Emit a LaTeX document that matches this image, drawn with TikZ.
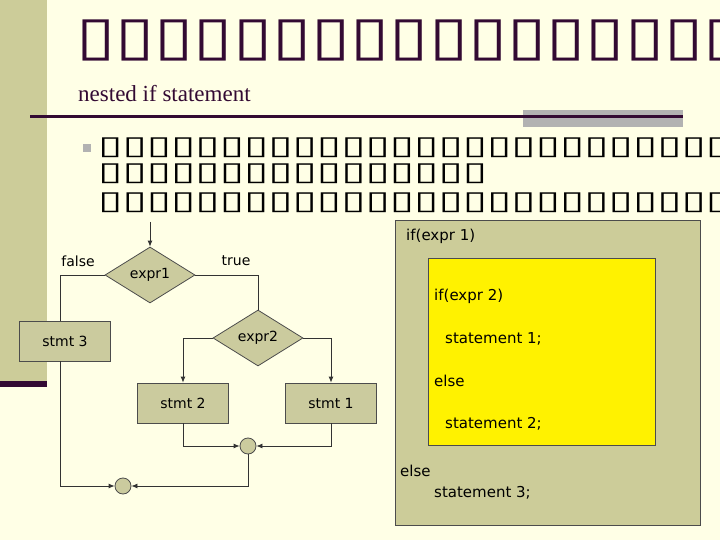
\documentclass[tikz,border=0pt]{standalone}
\usepackage{fontspec}
\setmainfont{Liberation Serif}
\newfontfamily\dv{DejaVu Sans}
\newfontfamily\tah{DejaVu Sans}
\usetikzlibrary{shapes.geometric,arrows.meta}
\definecolor{bg}{HTML}{FFFFE6}
\definecolor{olive}{HTML}{CCCC99}
\definecolor{dpurp}{HTML}{330A33}
\definecolor{gbar}{HTML}{B2B2B2}
\definecolor{fill2}{HTML}{CBCB9E}
\tikzset{
 fc/.style={font=\tah\fontsize{14}{16}\selectfont},
 dia/.style={diamond,aspect=1.6,fill=fill2,draw=black!70,line width=0.8pt,minimum width=90,minimum height=56,inner sep=0pt,fc},
 stmtbox/.style={rectangle,fill=fill2,draw=black!70,line width=0.8pt,minimum width=91,minimum height=40,fc},
 jn/.style={circle,fill=fill2,draw=black!70,line width=0.8pt,minimum size=16,inner sep=0pt},
 ln/.style={line width=0.8pt,black!80},
 ar/.style={ln,-{Latex[length=6pt,width=5pt]}},
 pt/.style={font=\tah\fontsize{15}{17}\selectfont,anchor=west,inner sep=0pt},
 tofu/.style={anchor=west,inner sep=0pt,text=dpurp},
}
\begin{document}
\begin{tikzpicture}[x=1pt,y=-1pt]
\useasboundingbox (0,0) rectangle (720,540);
\fill[bg] (0,0) rectangle (720,540);
\fill[olive] (0,0) rectangle (47,384);
\fill[dpurp] (0,381) rectangle (47,387);
% title
\node[tofu,font=\dv\fontsize{54}{56}\selectfont] (title) at (76,40) {\scalebox{1.32}[1]{▯▯▯▯▯▯▯▯▯▯▯▯▯▯▯▯▯▯}};
\node[anchor=west,inner sep=0pt,font=\fontsize{23}{26}\selectfont,text=dpurp] (sub) at (78,94) {nested if statement};
\fill[gbar] (523,110) rectangle (683,127);
\draw[dpurp,line width=3pt] (30,117) -- (683,117);
\fill[gbar] (83,144) rectangle (91,152);
\node[tofu,text=black,font=\dv\fontsize{26}{30}\selectfont] (l1) at (98,148) {\scalebox{1.7}[1]{▯▯▯▯▯▯▯▯▯▯▯▯▯▯▯▯▯▯▯▯▯▯▯▯▯▯▯▯}};
\node[tofu,text=black,font=\dv\fontsize{26}{30}\selectfont] (l2) at (98,174) {\scalebox{1.7}[1]{▯▯▯▯▯▯▯▯▯▯▯▯▯▯▯▯}};
\node[tofu,text=black,font=\dv\fontsize{26}{30}\selectfont] (l3) at (98,203) {\scalebox{1.7}[1]{▯▯▯▯▯▯▯▯▯▯▯▯▯▯▯▯▯▯▯▯▯▯▯▯▯▯▯▯}};
% right panel
\node[draw=black!70,line width=0.8pt,fill=olive,minimum width=305,minimum height=305,inner sep=0pt] (outer) at (547.5,372.5) {};
\node[draw=black!70,line width=0.6pt,fill=yellow,minimum width=227,minimum height=187,inner sep=0pt] (inner) at (541.5,351.5) {};
\node[pt] (t1) at (406,236) {if(expr 1)};
\node[pt] (t2) at (434,296) {if(expr 2)};
\node[pt] (t3) at (445,339) {statement 1;};
\node[pt] (t4) at (434,381) {else};
\node[pt] (t5) at (445,424) {statement 2;};
\node[pt] (t6) at (400,471) {else};
\node[pt] (t7) at (434,493) {statement 3;};
% flowchart
\coordinate (start) at (150,222);
\node[dia] (e1) at (150,275) {expr1};
\node[dia] (e2) at (258,338) {expr2};
\node[stmtbox] (s3) at (65,341) {stmt 3};
\node[stmtbox] (s2) at (183,403) {stmt 2};
\node[stmtbox] (s1) at (331,403) {stmt 1};
\node[jn] (j2) at (248,446) {};
\node[jn] (j1) at (123,486) {};
\node[fc,inner sep=0pt] (lf) at (78,261) {false};
\node[fc,inner sep=0pt] (lt) at (236,261) {true};
\draw[ar] (start) -- (e1.north);
\draw[ln] (e1.west) -| (s3.north -| 60,0);
\draw[ln] (e1.east) -| (e2.north);
\draw[ar] (e2.west) -| (s2.north);
\draw[ar] (e2.east) -| (s1.north);
\draw[ar] (s2.south) |- (j2.west);
\draw[ar] (s1.south) |- (j2.east);
\draw[ar] (j2.south) |- (j1.east);
\draw[ar] (s3.south -| 60,0) |- (j1.west);
\end{tikzpicture}
\end{document}
